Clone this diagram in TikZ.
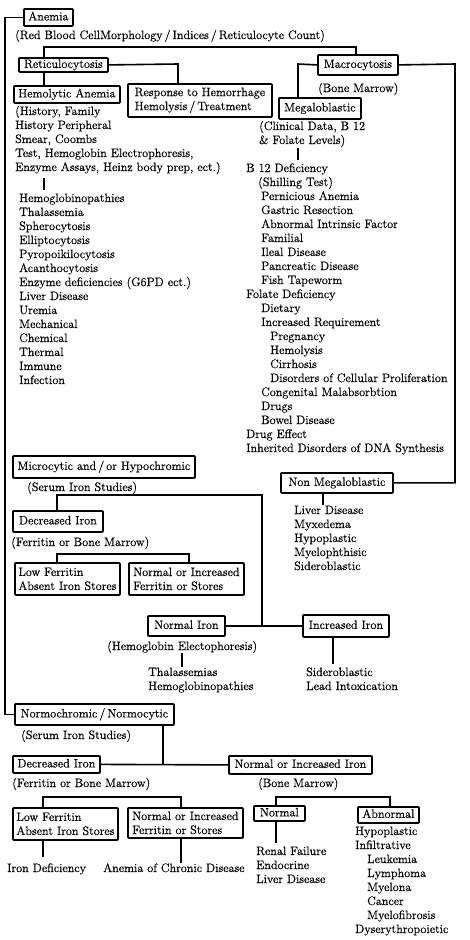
\documentclass[tikz,border=0pt]{standalone}
\usepackage{fontspec}
\setmainfont{Latin Modern Roman}[FakeBold=0.6]
\begin{document}
\newcommand\fs{\fontsize{12.2}{14}\selectfont}
\begin{tikzpicture}[x=1pt,y=-1pt,
 bx/.style={draw, line width=1.8pt, rounded corners=0.8pt, inner xsep=3pt, inner ysep=0pt, anchor=north west, font=\fs},
 one/.style={text height=8.5pt, text depth=2.5pt},
 two/.style={align=left},
 tx/.style={anchor=base west, inner sep=0pt, font=\fs},
 ln/.style={line width=1.6pt}]
\fill[white] (0,0) rectangle (470,940);
\useasboundingbox (0,0) rectangle (470,940);
\newcommand\tl[4]{\node[tx] (#1) at (#2,{#3+4}) {#4};}
% boxes
\node[bx,one,minimum width=49pt,minimum height=17pt] (anemia) at (23,8) {Anemia};
\node[bx,one,minimum width=89pt,minimum height=14pt] (retic) at (18,57) {Reticulocytosis};
\node[bx,one,minimum width=106pt,minimum height=17pt] (hemo) at (13,85) {Hemolytic Anemia};
\node[bx,two,minimum width=144pt,minimum height=33pt] (resp) at (127,83) {Response to Hemorrhage\\Hemolysis\,/\,Treatment};
\node[bx,one,minimum width=80pt,minimum height=20pt] (macro) at (317,54) {Macrocytosis};
\node[bx,one,minimum width=82pt,minimum height=21pt] (mega) at (278,97) {Megaloblastic};
\node[bx,one,minimum width=112pt,minimum height=20pt] (nonmega) at (280,472) {Non Megaloblastic};
\node[bx,one,minimum width=182pt,minimum height=22pt] (micro) at (12,455) {Microcytic and\,/\,or Hypochromic};
\node[bx,one,minimum width=90pt,minimum height=21pt] (decr1) at (12,510) {Decreased Iron};
\node[bx,two,minimum width=105pt,minimum height=32pt] (low1) at (14,562) {Low Ferritin\\Absent Iron Stores};
\node[bx,two,minimum width=115pt,minimum height=32pt] (noi1) at (128,562) {Normal or Increased\\Ferritin or Stores};
\node[bx,one,minimum width=77pt,minimum height=20pt] (normiron) at (147,615) {Normal Iron};
\node[bx,one,minimum width=86pt,minimum height=22pt] (incr) at (302,614) {Increased Iron};
\node[bx,one,minimum width=159pt,minimum height=21pt] (normo) at (14,703) {Normochromic\,/\,Normocytic};
\node[bx,one,minimum width=87pt,minimum height=17pt] (decr2) at (12,755) {Decreased Iron};
\node[bx,one,minimum width=143pt,minimum height=18pt] (noii) at (228,755) {Normal or Increased Iron};
\node[bx,two,minimum width=105pt,minimum height=32pt] (low2) at (12,807) {Low Ferritin\\Absent Iron Stores};
\node[bx,two,minimum width=115pt,minimum height=30pt] (noi2) at (127,807) {Normal or Increased\\Ferritin or Stores};
\node[bx,one,minimum width=51pt,minimum height=15pt] (normal) at (253,805) {Normal};
\node[bx,one,minimum width=61pt,minimum height=16pt] (abnormal) at (357,806) {Abnormal};
% texts
\tl{rbc}{15}{35}{(Red Blood CellMorphology\,/\,Indices\,/\,Reticulocyte Count)}
\tl{hd1}{15}{111}{(History, Family}
\tl{hd2}{15}{125}{History Peripheral}
\tl{hd3}{15}{139}{Smear, Coombs}
\tl{hd4}{15}{153}{Test, Hemoglobin Electrophoresis,}
\tl{hd5}{15}{167}{Enzyme Assays, Heinz body prep, ect.)}
\foreach \t [count=\i] in {Hemoglobinopathies,Thalassemia,Spherocytosis,Elliptocytosis,Pyropoikilocytosis,Acanthocytosis,Enzyme deficiencies (G6PD ect.),Liver Disease,Uremia,Mechanical,Chemical,Thermal,Immune,Infection}
  {\node[tx] (hl\i) at (19,{188+14*\i}) {\t};}
\tl{bm1}{318}{88}{(Bone Marrow)}
\tl{md1}{259}{126}{(Clinical Data, B 12}
\tl{md2}{259}{140}{\& Folate Levels)}
\foreach \x/\t [count=\i] in {246/B 12 Deficiency,258/(Shilling Test),261/Pernicious Anemia,261/Gastric Resection,261/Abnormal Intrinsic Factor,261/Familial,261/Ileal Disease,261/Pancreatic Disease,261/Fish Tapeworm,246/Folate Deficiency,261/Dietary,261/Increased Requirement,270/Pregnancy,270/Hemolysis,270/Cirrhosis,270/Disorders of Cellular Proliferation,261/Congenital Malabsorbtion,261/Drugs,261/Bowel Disease,246/Drug Effect,246/Inherited Disorders of DNA Synthesis}
  {\node[tx] (ml\i) at (\x,{158+14*\i}) {\t};}
\foreach \t [count=\i] in {Liver Disease,Myxedema,Hypoplastic,Myelophthisic,Sideroblastic}
  {\node[tx] (nl\i) at (294,{500+14*\i}) {\t};}
\tl{sis1}{27}{487}{(Serum Iron Studies)}
\tl{fbm1}{11}{542}{(Ferritin or Bone Marrow)}
\tl{hbe}{107}{646}{(Hemoglobin Electophoresis)}
\tl{th1}{148}{672}{Thalassemias}
\tl{th2}{148}{686}{Hemoglobinopathies}
\tl{sd1}{306}{672}{Sideroblastic}
\tl{sd2}{306}{686}{Lead Intoxication}
\tl{sis2}{21}{735}{(Serum Iron Studies)}
\tl{fbm2}{12}{783}{(Ferritin or Bone Marrow)}
\tl{bm2}{258}{783}{(Bone Marrow)}
\tl{idef}{7}{868}{Iron Deficiency}
\tl{acd}{103}{868}{Anemia of Chronic Disease}
\tl{rf1}{256}{851}{Renal Failure}
\tl{rf2}{256}{865}{Endocrine}
\tl{rf3}{256}{879}{Liver Disease}
\foreach \x/\t [count=\i] in {355/Hypoplastic,355/Infiltrative,367/Leukemia,367/Lymphoma,367/Myelona,367/Cancer,367/Myelofibrosis,355/Dyserythropoietic}
  {\node[tx] (al\i) at (\x,{821+14*\i}) {\t};}
% junction coordinates
\coordinate (b1) at (44,47);
\coordinate (b2) at (356,47);
\coordinate (b3) at (178,64);
\coordinate (b4) at (298,64);
\coordinate (b5) at (455,64);
\coordinate (b6) at (57,495);
\coordinate (b7) at (262,495);
\coordinate (b8) at (57,554);
\coordinate (b9) at (189,554);
\coordinate (b10) at (163,763.5);
\coordinate (b11) at (43,797);
\coordinate (b12) at (181,797);
\coordinate (b13) at (276,797);
\coordinate (b14) at (390,797);
% connectors
\draw[ln] (anemia.west) -- ++(-18,0) |- (normo.west);
\draw[ln] (b1 |- retic.north) -- (b1) -- (b2) -- (b2 |- macro.north);
\draw[ln] (retic.east) -- (b3) -- (b3 |- resp.north);
\draw[ln] (b1 |- retic.south) -- (b1 |- hemo.north);
\draw[ln, shorten <=4pt, shorten >=3pt] (b1 |- hd5.south) -- (b1 |- hl1.north);
\draw[ln] (macro.west) -- (b4) -- (b4 |- mega.north);
\draw[ln] (macro.east) -- (b5) |- (nonmega.east);
\draw[ln, shorten <=1pt, shorten >=3pt] (b4 |- md2.south) -- (b4 |- ml1.north);
\draw[ln] (nonmega.south -| 323,0) -- (nl1.north -| 323,0);
\draw[ln] (b6 |- decr1.north) -- (b6) -- (b7) -- (b7 |- normiron.east);
\draw[ln] (normiron.east) -- (incr.west);
\draw[ln] (b8 |- low1.north) -- (b8) -- (b9) -- (b9 |- noi1.north);
\draw[ln] (hbe.south -| 182,0) -- (th1.north -| 182,0);
\draw[ln, shorten >=3pt] (incr.south -| 333,0) -- (sd1.north -| 333,0);
\draw[ln] (b10 |- normo.south) -- (b10);
\draw[ln] (decr2.east) -- (noii.west);
\draw[ln] (b11 |- low2.north) -- (b11) -- (b12) -- (b12 |- noi2.north);
\draw[ln] (b13 |- normal.north) -- (b13) -- (b14) -- (b14 |- abnormal.north);
\draw[ln, shorten >=6pt] (b11 |- low2.south) -- (b11 |- idef.north);
\draw[ln] (b12 |- noi2.south) -- (b12 |- acd.north);
\draw[ln, shorten >=3pt] (b13 |- normal.south) -- (b13 |- rf1.north);
\end{tikzpicture}
\end{document}
